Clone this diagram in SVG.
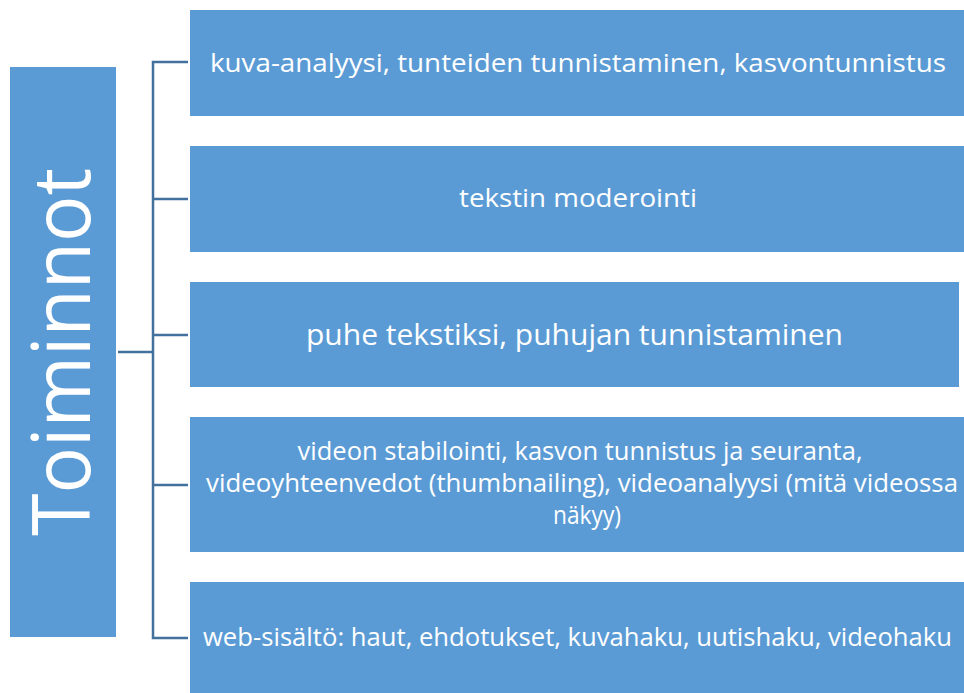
<svg xmlns="http://www.w3.org/2000/svg" width="964" height="693" viewBox="0 0 964 693">
  <style>
    .box { fill: #5B9BD5; }
    .lbl { font-family: "Open Sans", "Noto Sans", "DejaVu Sans", sans-serif; fill: #FFFFFF; text-anchor: middle; }
    .wire { fill: none; stroke: #41719C; stroke-width: 2.5; }
  </style>
  <rect width="964" height="693" fill="#FFFFFF"/>

  <!-- connectors: bracket from the root to each item -->
  <g id="connectors">
    <path class="wire" d="M118 352 H153"/>
    <path class="wire" d="M188 62 H153 V638 H188"/>
    <path class="wire" d="M153 199 H188"/>
    <path class="wire" d="M153 335 H188"/>
    <path class="wire" d="M153 485 H188"/>
  </g>

  <g id="root">
    <rect class="box" x="10" y="67" width="106" height="570"/>
    <text class="lbl" transform="translate(90,352) rotate(-90)" x="0" y="0" font-size="80" textLength="368" lengthAdjust="spacingAndGlyphs">Toiminnot</text>
  </g>

  <g id="item1">
    <rect class="box" x="190" y="10" width="776" height="106"/>
    <text class="lbl" x="578" y="72" font-size="26" textLength="736" lengthAdjust="spacingAndGlyphs">kuva-analyysi, tunteiden tunnistaminen, kasvontunnistus</text>
  </g>

  <g id="item2">
    <rect class="box" x="190" y="146" width="776" height="106"/>
    <text class="lbl" x="578" y="207" font-size="26" textLength="238" lengthAdjust="spacingAndGlyphs">tekstin moderointi</text>
  </g>

  <g id="item3">
    <rect class="box" x="190" y="282" width="769" height="105"/>
    <text class="lbl" x="574.5" y="345" font-size="28.5" textLength="537" lengthAdjust="spacingAndGlyphs">puhe tekstiksi, puhujan tunnistaminen</text>
  </g>

  <g id="item4">
    <rect class="box" x="190" y="417" width="776" height="135"/>
    <text class="lbl" x="580" y="460" font-size="25" textLength="565" lengthAdjust="spacingAndGlyphs">videon stabilointi, kasvon tunnistus ja seuranta,</text>
    <text class="lbl" x="582" y="492" font-size="25" textLength="752" lengthAdjust="spacingAndGlyphs">videoyhteenvedot (thumbnailing), videoanalyysi (mitä videossa</text>
    <text class="lbl" x="587" y="524" font-size="25" textLength="68" lengthAdjust="spacingAndGlyphs">näkyy)</text>
  </g>

  <g id="item5">
    <rect class="box" x="190" y="582" width="776" height="115"/>
    <text class="lbl" x="577.5" y="646" font-size="25" textLength="749" lengthAdjust="spacingAndGlyphs">web-sisältö: haut, ehdotukset, kuvahaku, uutishaku, videohaku</text>
  </g>
</svg>
